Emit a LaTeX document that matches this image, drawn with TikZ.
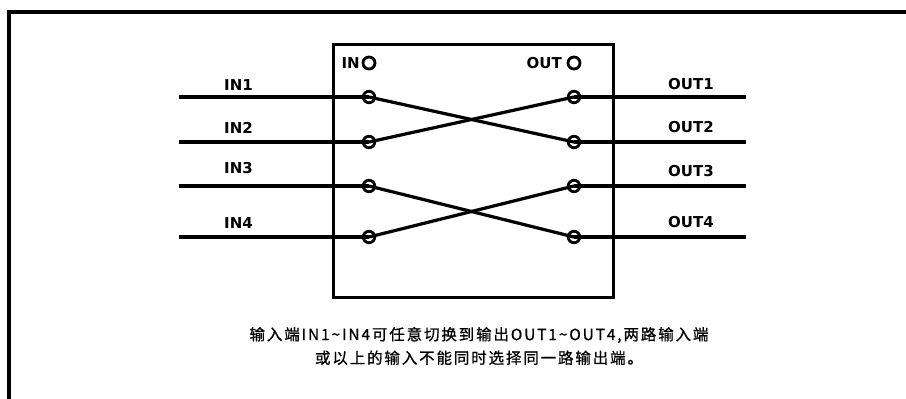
\documentclass[tikz,border=0pt]{standalone}
\usepackage{fontspec}
\setmainfont{DejaVu Sans}
\newfontfamily\cjk[LetterSpace=12,FakeBold=0.8]{Noto Sans CJK SC}
\usetikzlibrary{positioning}

\begin{document}
\begin{tikzpicture}[x=1pt,y=-1pt,
  wire/.style={line width=3.2pt},
  term/.style={circle,draw,line width=2.8pt,minimum size=11.5pt,inner sep=0pt},
  lab/.style={font=\fontsize{15}{17}\selectfont\bfseries,anchor=west,inner sep=0pt}]
\useasboundingbox (0,0) rectangle (906,399);

\draw[line width=4pt] (9,399) -- (9,12) -- (906,12);
\node[draw,line width=3pt,minimum width=280pt,minimum height=253pt,inner sep=0pt] (box) at (473,170.5) {};

% top marks
\node[term,minimum size=12pt] (inmark) at (369,63) {};
\node[lab,anchor=east] (inlab) at (360,63) {IN};
\node[term,minimum size=12pt] (outmark) at (574,63) {};
\node[lab,anchor=east] (outlab) at (562,63) {OUT};

% input side
\coordinate (a1) at (179,97);
\coordinate (a2) at (179,142);
\coordinate (a3) at (179,186);
\coordinate (a4) at (179,237);
\node[term] (i1) at (369,97) {};
\node[term] (i2) at (369,142) {};
\node[term] (i3) at (369,186) {};
\node[term] (i4) at (369,237) {};
\node[lab] (l1) at (224,85.5) {IN1};
\node[lab] (l2) at (224,128) {IN2};
\node[lab] (l3) at (224,168) {IN3};
\node[lab] (l4) at (224,223) {IN4};
\draw[wire] (a1) -- (i1.center);
\draw[wire] (a2) -- (i2.center);
\draw[wire] (a3) -- (i3.center);
\draw[wire] (a4) -- (i4.center);

% output side
\coordinate (b1) at (746,97);
\coordinate (b2) at (746,142);
\coordinate (b3) at (746,186);
\coordinate (b4) at (746,237);
\node[term] (o1) at (574,97) {};
\node[term] (o2) at (574,142) {};
\node[term] (o3) at (574,186) {};
\node[term] (o4) at (574,237) {};
\node[lab] (r1) at (668,84) {OUT1};
\node[lab] (r2) at (668,127.5) {OUT2};
\node[lab] (r3) at (668,171) {OUT3};
\node[lab] (r4) at (668,222.5) {OUT4};
\draw[wire] (o1.center) -- (b1);
\draw[wire] (o2.center) -- (b2);
\draw[wire] (o3.center) -- (b3);
\draw[wire] (o4.center) -- (b4);

% crossings
\draw[wire] (i1.center) -- (o2.center);
\draw[wire] (i2.center) -- (o1.center);
\draw[wire] (i3.center) -- (o4.center);
\draw[wire] (i4.center) -- (o3.center);

\node[font=\cjk\fontsize{15.5}{23.5}\selectfont,align=center] (note) at (479,346)
  {输入端IN1\textasciitilde IN4可任意切换到输出OUT1\textasciitilde OUT4,两路输入端\\或以上的输入不能同时选择同一路输出端。};

\end{tikzpicture}
\end{document}
